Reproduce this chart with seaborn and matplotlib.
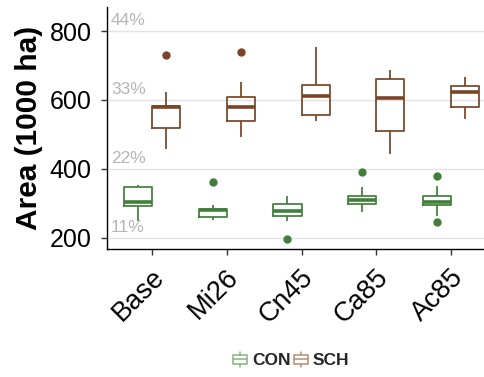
import matplotlib
matplotlib.use("Agg")
import matplotlib.pyplot as plt
import seaborn as sns
import pandas as pd
from matplotlib.patches import Patch, Rectangle
from matplotlib.lines import Line2D
from matplotlib.legend_handler import HandlerBase
import matplotlib.transforms as mtransforms

# ---- data (1000 ha) ----
scenarios = ["Base", "Mi26", "Cn45", "Ca85", "Ac85"]
groups = ["CON", "SCH"]

con_base = [247, 270, 291, 298, 303, 325, 346, 350, 352]
con_mi26 = [250, 255, 260, 270, 280, 282, 283, 294, 362]
con_cn45 = [196, 247, 264, 270, 276, 290, 299, 310, 322]
con_ca85 = [275, 290, 299, 305, 309, 315, 320, 346, 390]
con_ac85 = [244, 264, 295, 300, 304, 310, 320, 349, 378]

sch_base = [458, 490, 518, 550, 580, 582, 583, 624, 732]
sch_mi26 = [491, 520, 540, 560, 580, 600, 608, 651, 738]
sch_cn45 = [540, 550, 556, 590, 612, 630, 643, 700, 755]
sch_ca85 = [443, 480, 511, 560, 607, 640, 661, 675, 687]
sch_ac85 = [544, 560, 579, 600, 623, 630, 641, 655, 666]

yticks = [200, 400, 600, 800]
pct_labels = ["11%", "22%", "33%", "44%"]

con_color = "#417f3a"
sch_color = "#784526"
con_light = "#86b47f"
sch_light = "#b98e70"

rows = []
for sc, vals in zip(scenarios, [con_base, con_mi26, con_cn45, con_ca85, con_ac85]):
    rows += [(sc, "CON", v) for v in vals]
for sc, vals in zip(scenarios, [sch_base, sch_mi26, sch_cn45, sch_ca85, sch_ac85]):
    rows += [(sc, "SCH", v) for v in vals]
df = pd.DataFrame(rows, columns=["scenario", "group", "area"])

sns.set_theme(style="white")
plt.rcParams["font.family"] = ["Liberation Sans", "DejaVu Sans"]

fig = plt.figure(figsize=(4.85, 3.77), dpi=100)
# axes runs a little past the right edge of the canvas (cropped like the reference)
ax = fig.add_axes([107 / 485, 1 - 249 / 377, (496 - 107) / 485, (249 - 7) / 377])
ax.patch.set_edgecolor("none")

sns.boxplot(data=df, x="scenario", y="area", hue="group", order=scenarios,
            hue_order=groups, palette={"CON": con_color, "SCH": sch_color},
            fill=False, width=0.75, gap=0, saturation=1, linewidth=1.25,
            whis=1.5, legend=False, ax=ax,
            medianprops={"linewidth": 2.6},
            flierprops={"marker": "o", "markersize": 5},
            capwidths=0)

for ln in ax.lines:
    if ln.get_marker() == "o":
        ln.set_markerfacecolor(ln.get_markeredgecolor())

ax.set_xlim(-0.6, 4.6)
ax.set_ylim(167, 870)
ax.set_yticks(yticks)
ax.yaxis.grid(True, color="#e3e3e3", linewidth=1.0)
ax.xaxis.grid(False)
ax.set_axisbelow(True)
for s in ["top", "right"]:
    ax.spines[s].set_visible(False)
for s in ["left", "bottom"]:
    ax.spines[s].set_color("black")
    ax.spines[s].set_linewidth(1.0)
ax.tick_params(axis="both", which="major", direction="out", length=4.5, width=1,
               color="#333333", labelcolor="black", left=True, bottom=True)
ax.tick_params(axis="y", pad=6.5, labelsize=18)
ax.tick_params(axis="x", pad=2, labelsize=19.5)
ax.set_xlabel("")
ax.set_ylabel("")

offset = mtransforms.ScaledTranslation(-1 / 100, -6 / 100, fig.dpi_scale_trans)
for lab in ax.get_xticklabels():
    lab.set_rotation(45)
    lab.set_ha("right")
    lab.set_va("top")
    lab.set_rotation_mode("anchor")
    lab.set_transform(lab.get_transform() + offset)

trans = mtransforms.blended_transform_factory(ax.transAxes, ax.transData)
for yv, lab in zip(yticks, pct_labels):
    ax.text(0.0105, yv + 8, lab, transform=trans, color="#b5b5b5",
            fontsize=12.5, ha="left", va="bottom")

fig.text(29 / 485, 1 - 128 / 377, "Area (1000 ha)", rotation=90, ha="center",
         va="center", fontsize=21.5, fontweight="bold", color="black")


class BoxHandler(HandlerBase):
    def create_artists(self, legend, orig_handle, xdescent, ydescent, width,
                       height, fontsize, trans):
        c = orig_handle.get_edgecolor()
        cx = -xdescent + width / 2
        w = width
        h = height
        y0 = -ydescent
        rect = Rectangle((cx - w / 2, y0 + h * 0.2), w, h * 0.6, facecolor="white",
                         edgecolor=c, linewidth=1.1, transform=trans)
        med = Line2D([cx - w / 2, cx + w / 2], [y0 + h / 2] * 2, color=c,
                     linewidth=1.1, transform=trans)
        wt = Line2D([cx, cx], [y0, y0 + h * 0.2], color=c, linewidth=1.1, transform=trans)
        wb = Line2D([cx, cx], [y0 + h * 0.8, y0 + h], color=c, linewidth=1.1, transform=trans)
        return [rect, med, wt, wb]


handles = [Patch(edgecolor=con_light, facecolor="white", label="CON"),
           Patch(edgecolor=sch_light, facecolor="white", label="SCH")]
leg = fig.legend(handles=handles, loc="center", bbox_to_anchor=(291 / 485, 1 - 360 / 377),
                 ncol=2, frameon=False, handler_map={Patch: BoxHandler()},
                 prop={"size": 12.5, "weight": "bold"}, handlelength=0.85,
                 handleheight=1.0, handletextpad=0.25, columnspacing=0.2)

fig.savefig("out.png", dpi=100)
